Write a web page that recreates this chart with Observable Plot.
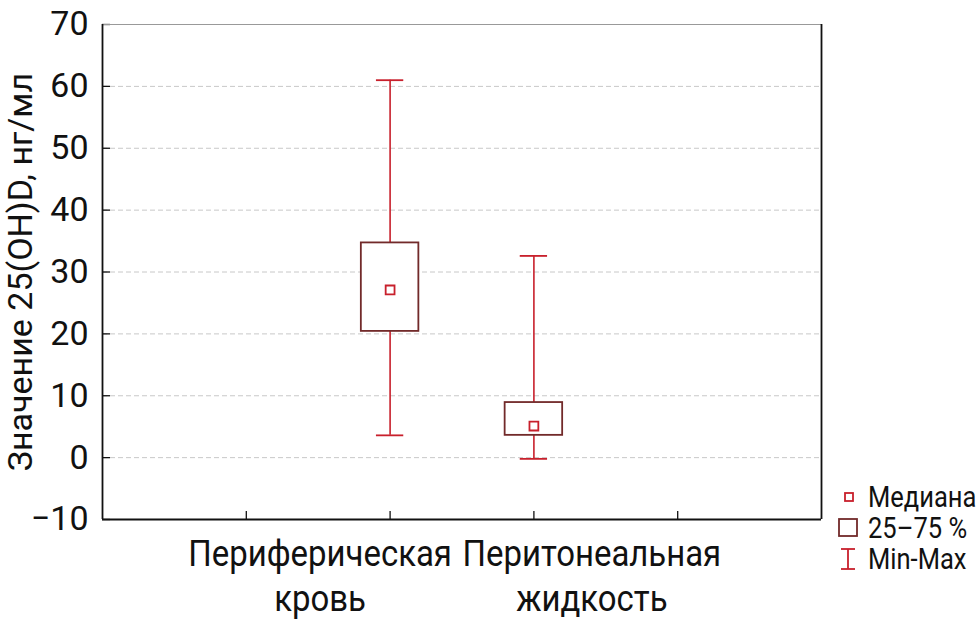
<!DOCTYPE html>
<html>
<head>
<meta charset="utf-8">
<script src="https://cdn.jsdelivr.net/npm/d3@7"></script>
<script src="https://cdn.jsdelivr.net/npm/@observablehq/plot@0.6"></script>
<style>
  html, body { margin: 0; padding: 0; background: #fff; }
  #wrap { position: relative; width: 980px; height: 621px; overflow: hidden; }
  #wrap svg { font-family: Roboto, "Liberation Sans", sans-serif; }
  #legend { position: absolute; left: 836px; top: 481px; font-family: Roboto, "Liberation Sans", sans-serif; font-size: 29px; color: #111; }
  #legend .row { display: flex; align-items: center; height: 31px; }
  #legend svg { width: 26px; height: 26px; margin-right: 6px; flex: none; }
  #legend span { display: inline-block; transform: scaleX(0.88); transform-origin: left center; white-space: nowrap; }
</style>
</head>
<body>
<div id="wrap"></div>
<script>
// ---- data ----
const categories = ["Периферическая\nкровь", "Перитонеальная\nжидкость"];
const positions = [1, 2];
const minVals = [3.6, -0.2];
const q1Vals = [20.4, 3.6];
const medianVals = [27.1, 5.1];
const q3Vals = [34.7, 8.9];
const maxVals = [61.0, 32.6];
const yTicks = [-10, 0, 10, 20, 30, 40, 50, 60, 70];
const gridTicks = [0, 10, 20, 30, 40, 50, 60];
const xTicks = [0, 1, 2, 3];
const yLabel = "Значение 25(OH)D, нг/мл";
const legendLabels = ["Медиана", "25–75 %", "Min-Max"];

const rows = categories.map((c, i) => ({
  name: c, pos: positions[i], min: minVals[i], q1: q1Vals[i],
  med: medianVals[i], q3: q3Vals[i], max: maxVals[i]
}));

const boxColor = "#722a2a";
const redColor = "#c8202c";
const halfBox = 0.2, halfCap = 0.095;

const chart = Plot.plot({
  width: 980,
  height: 621,
  marginLeft: 102,
  marginRight: 159,
  marginTop: 24,
  marginBottom: 102,
  x: { domain: [-1, 4], axis: null },
  y: { domain: [-10, 70] },
  marks: [
    Plot.ruleY(gridTicks, { stroke: "#c8c8c8", strokeDasharray: "5,3", strokeWidth: 1 }),
    Plot.axisY({ ticks: yTicks, tickSize: 0, tickPadding: 14, fontSize: 34, label: yLabel,
      labelAnchor: "center", labelArrow: "none", labelOffset: 95, color: "#111" }),
    // inward ticks
    Plot.ruleY(yTicks, { x1: -1, x2: 4, insetRight: 711, stroke: "#111", strokeWidth: 1.3 }),
    Plot.ruleX(xTicks, { y1: 70, y2: -10, insetTop: 487, stroke: "#111", strokeWidth: 1.3 }),
    // frame
    Plot.ruleY([70], { stroke: "#999", strokeWidth: 1.2 }),
    Plot.ruleY([-10], { stroke: "#111", strokeWidth: 1.8 }),
    Plot.ruleX([-1, 4], { stroke: "#111", strokeWidth: 1.8 }),
    // whiskers
    Plot.ruleX(rows, { x: "pos", y1: "q3", y2: "max", stroke: redColor, strokeWidth: 1.6 }),
    Plot.ruleX(rows, { x: "pos", y1: "min", y2: "q1", stroke: redColor, strokeWidth: 1.6 }),
    Plot.ruleY(rows, { y: "max", x1: d => d.pos - halfCap, x2: d => d.pos + halfCap, stroke: redColor, strokeWidth: 1.8 }),
    Plot.ruleY(rows, { y: "min", x1: d => d.pos - halfCap, x2: d => d.pos + halfCap, stroke: redColor, strokeWidth: 1.8 }),
    // boxes
    Plot.rect(rows, { x1: d => d.pos - halfBox, x2: d => d.pos + halfBox, y1: "q1", y2: "q3",
      fill: "white", stroke: boxColor, strokeWidth: 1.8 }),
    // median
    Plot.dot(rows, { x: "pos", y: "med", symbol: "square", r: 5, stroke: redColor, fill: "white", strokeWidth: 1.8 }),
    // category labels
    Plot.text(rows.slice(0, 1), { x: "pos", y: () => -10, text: "name", dx: -70, dy: 14, lineAnchor: "top",
      lineHeight: 1.22, fontSize: 37, fill: "#111", className: "cat" }),
    Plot.text(rows.slice(1, 2), { x: "pos", y: () => -10, text: "name", dx: 58, dy: 14, lineAnchor: "top",
      lineHeight: 1.22, fontSize: 37, fill: "#111", className: "cat" })
  ]
});
// condense the category labels horizontally (reference uses a condensed face)
chart.querySelectorAll(".cat text").forEach(t => {
  const tr = t.getAttribute("transform") || "";
  t.setAttribute("transform", tr + " scale(0.89,1)");
});
document.getElementById("wrap").appendChild(chart);

// legend
const legend = document.createElement("div");
legend.id = "legend";
const icons = [
  `<svg viewBox="0 0 26 26"><rect x="9" y="9" width="8" height="8" fill="white" stroke="${redColor}" stroke-width="1.8"/></svg>`,
  `<svg viewBox="0 0 26 26"><rect x="3" y="4" width="18" height="17" fill="white" stroke="${boxColor}" stroke-width="1.8"/></svg>`,
  `<svg viewBox="0 0 26 26"><line x1="5" x2="19" y1="3" y2="3" stroke="${redColor}" stroke-width="1.8"/><line x1="12" x2="12" y1="3" y2="23" stroke="${redColor}" stroke-width="1.8"/><line x1="5" x2="19" y1="23" y2="23" stroke="${redColor}" stroke-width="1.8"/></svg>`
];
legendLabels.forEach((t, i) => {
  const r = document.createElement("div");
  r.className = "row";
  r.innerHTML = icons[i] + `<span>${t}</span>`;
  legend.appendChild(r);
});
document.getElementById("wrap").appendChild(legend);
</script>
</body>
</html>
